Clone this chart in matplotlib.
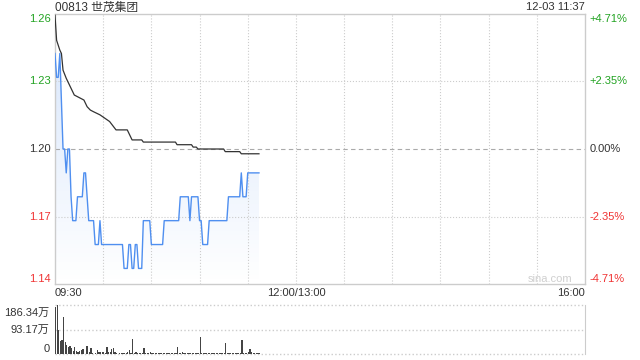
import numpy as np
import matplotlib.pyplot as plt
from matplotlib.patches import Polygon
from matplotlib.colors import to_rgb

plt.rcParams['font.family'] = ['Liberation Sans', 'Noto Sans CJK SC']

title = '00813 世茂集团'
stamp = '12-03 11:37'
prev_close = 1.20
max_pct = 4.71

# price per minute from 09:30
price = [1.24, 1.23, 1.23, 1.24, 1.22, 1.20, 1.20, 1.19, 1.20, 1.20,
         1.18, 1.17, 1.17, 1.17, 1.18, 1.18, 1.18, 1.18, 1.19, 1.19,
         1.18, 1.17, 1.17, 1.17, 1.17, 1.16, 1.16, 1.16, 1.17, 1.16,
         1.16, 1.16, 1.16, 1.16, 1.16, 1.16, 1.16, 1.16, 1.16, 1.16,
         1.16, 1.16, 1.16, 1.15, 1.15, 1.15, 1.16, 1.16, 1.15, 1.15,
         1.16, 1.16, 1.15, 1.15, 1.15, 1.17, 1.17, 1.17, 1.17, 1.17,
         1.16, 1.16, 1.16, 1.16, 1.16, 1.16, 1.16, 1.16, 1.17, 1.17,
         1.17, 1.17, 1.17, 1.17, 1.17, 1.17, 1.17, 1.17, 1.18, 1.18,
         1.18, 1.18, 1.18, 1.18, 1.17, 1.18, 1.18, 1.18, 1.18, 1.18,
         1.17, 1.17, 1.16, 1.16, 1.16, 1.16, 1.17, 1.17, 1.17, 1.17,
         1.17, 1.17, 1.17, 1.17, 1.17, 1.17, 1.17, 1.17, 1.18, 1.18,
         1.18, 1.18, 1.18, 1.18, 1.18, 1.18, 1.19, 1.18, 1.18, 1.18,
         1.19, 1.19, 1.19, 1.19, 1.19, 1.19, 1.19, 1.19]

# average price line (minute, value)
avg_min = [0, 1, 3, 4, 5, 7, 9, 12, 16, 18, 20, 22, 24, 28, 31, 34, 38,
           45, 48, 54, 55, 75, 76, 85, 86, 88, 89, 105, 106, 115, 116, 127]
avg_val = [1.2560, 1.2455, 1.2414, 1.2400, 1.2330, 1.2296, 1.2268, 1.2226,
           1.2212, 1.2205, 1.2177, 1.2163, 1.2156, 1.2143, 1.2129, 1.2115,
           1.2080, 1.2080, 1.2038, 1.2038, 1.2029, 1.2029, 1.2018, 1.2018,
           1.2008, 1.2008, 1.2000, 1.2000, 1.1989, 1.1989, 1.1980, 1.1980]

# volume per minute, in 万
volume = [177, 186.34, 91, 51, 53, 142, 47, 34, 28, 30,
          22, 13, 28, 13, 9, 13, 15, 18, 1, 30,
          30, 9, 22, 4, 1, 4, 15, 9, 6, 6,
          9, 4, 25, 6, 9, 19, 22, 9, 4, 1,
          2, 2, 5, 3, 3, 9, 15, 3, 58, 5,
          9, 3, 3, 3, 3, 24, 3, 3, 5, 6,
          3, 2, 3, 3, 3, 3, 3, 2, 2, 3,
          3, 3, 3, 3, 3, 3, 28, 3, 5, 6,
          3, 3, 3, 3, 2, 2, 2, 3, 3, 5,
          65, 3, 3, 2, 2, 3, 3, 3, 2, 2,
          3, 3, 3, 3, 3, 3, 43, 3, 2, 3,
          3, 2, 3, 3, 3, 3, 53, 2, 3, 5,
          9, 18, 9, 5, 3, 5, 3, 2]
vol_max = 186.34

price_labels = ['1.26', '1.23', '1.20', '1.17', '1.14']
pct_labels = ['+4.71%', '+2.35%', '0.00%', '-2.35%', '-4.71%']
vol_labels = ['186.34万', '93.17万', '0']
x_labels = ['09:30', '12:00/13:00', '16:00']

green = '#22a322'
red = '#f03333'
dark = '#333333'
grid_c = '#cccccc'
blue = '#4f8ff0'

fig = plt.figure(figsize=(6.4, 3.6), dpi=100)
ax = fig.add_axes([55 / 640, 1 - 284 / 360, 530 / 640, 270 / 360])
axv = fig.add_axes([55 / 640, 1 - 354 / 360, 530 / 640, 49 / 360])

lo = prev_close * (1 - max_pct / 100)
hi = prev_close * (1 + max_pct / 100)
x = np.arange(len(price))

# gradient fill under the price line
rgba = np.zeros((256, 1, 4))
rgba[..., :3] = to_rgb(blue)
rgba[..., 3] = np.linspace(0.24, 0.0, 256).reshape(-1, 1)
im = ax.imshow(rgba, extent=[0, x[-1], lo, hi], aspect='auto', origin='upper', zorder=1)
verts = [(0, lo)] + list(zip(x, price)) + [(x[-1], lo)]
patch = Polygon(verts, closed=True, facecolor='none', edgecolor='none')
ax.add_patch(patch)
im.set_clip_path(patch)

ax.plot(x, price, color=blue, lw=1.0, zorder=3)
ax.plot(avg_min, avg_val, color=dark, lw=0.9, zorder=3)

ax.set_xlim(0, 330)
ax.set_ylim(lo, hi)
ax.set_xticks([])
ax.set_yticks([])
for s in ax.spines.values():
    s.set_color(grid_c)
    s.set_linewidth(1)

levels = np.linspace(hi, lo, 5)
for lv in levels[1:-1]:
    if lv == levels[2]:
        ax.axhline(lv, color='#aaaaaa', lw=0.8, ls=(0, (4, 3)), zorder=2)
    else:
        ax.axhline(lv, color=grid_c, lw=0.8, ls=':', zorder=2)
for m in range(30, 330, 30):
    ax.axvline(m, color=grid_c, lw=0.8, ls=':', zorder=2)

ytr = ax.get_yaxis_transform()
for k, (lv, pl, pc) in enumerate(zip(levels, price_labels, pct_labels)):
    c = green if k < 2 else (dark if k == 2 else red)
    va = 'top' if k == 0 else ('bottom' if k == 4 else 'center')
    ax.text(-0.008, lv, pl, transform=ytr, ha='right', va=va, color=c, fontsize=8)
    ax.text(1.008, lv, pc, transform=ytr, ha='left', va=va, color=c, fontsize=8)

ax.text(0.977, 0.02, 'sina.com', transform=ax.transAxes, ha='right', va='center',
        color='#cfcfcf', fontsize=8)

fig.text(55 / 640, 1 - 7.5 / 360, title, ha='left', va='center', color=dark, fontsize=8.5)
fig.text(585 / 640, 1 - 7.5 / 360, stamp, ha='right', va='center', color=dark, fontsize=8)

xtr = ax.get_xaxis_transform()
ax.text(0, -0.035, x_labels[0], transform=xtr, ha='left', va='center', color=dark, fontsize=8)
ax.text(150, -0.035, x_labels[1], transform=xtr, ha='center', va='center', color=dark, fontsize=8)
ax.text(330, -0.035, x_labels[2], transform=xtr, ha='right', va='center', color=dark, fontsize=8)

# volume panel
axv.bar(x, volume, width=0.75, align='edge', color='#444444', linewidth=0)
axv.set_xlim(0, 330)
axv.set_ylim(0, vol_max)
axv.set_xticks([])
axv.set_yticks([])
for side in ['left', 'top', 'bottom']:
    axv.spines[side].set_visible(False)
axv.spines['right'].set_color(grid_c)
vlev = [vol_max, vol_max / 2, 0]
for lv in vlev:
    axv.axhline(lv, color=grid_c, lw=1.0, ls=':', zorder=0, clip_on=False)
vtr = axv.get_yaxis_transform()
for k, (lv, lab) in enumerate(zip(vlev, vol_labels)):
    va = 'top' if k == 0 else ('bottom' if k == 2 else 'center')
    axv.text(-0.01, lv - (vol_max * 0.06 if k == 0 else 0), lab, transform=vtr,
             ha='right', va=va, color=dark, fontsize=8)

fig.savefig('out.png', dpi=100)
